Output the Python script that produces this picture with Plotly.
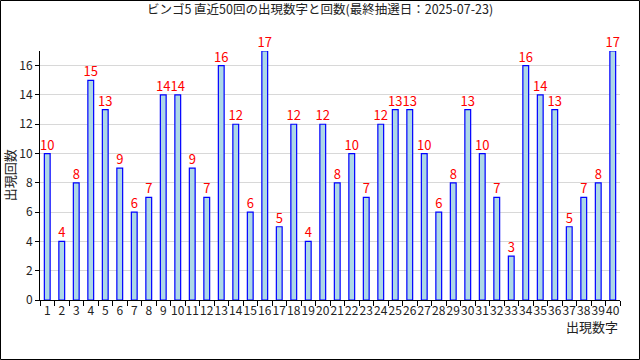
import plotly.graph_objects as go

numbers = [str(i) for i in range(1, 41)]
counts = [10, 4, 8, 15, 13, 9, 6, 7, 14, 14, 9, 7, 16, 12, 6, 17, 5, 12, 4, 12,
          8, 10, 7, 12, 13, 13, 10, 6, 8, 13, 10, 7, 3, 16, 14, 13, 5, 7, 8, 17]
title_text = "ビンゴ5 直近50回の出現数字と回数(最終抽選日：2025-07-23)"
x_title = "出現数字"
y_title = "出現回数"
y_ticks = [0, 2, 4, 6, 8, 10, 12, 14, 16]

FONT = "Noto Sans CJK JP"

fig = go.Figure(go.Bar(
    x=numbers, y=counts,
    width=0.4,
    marker=dict(color="#add8e6", line=dict(color="#0000ff", width=1.2)),
    text=[str(c) for c in counts],
    textposition="outside",
    textangle=0,
    constraintext="none",
    textfont=dict(color="#ff0000", size=13, family=FONT),
    cliponaxis=False,
))

fig.update_layout(
    width=640, height=360,
    margin=dict(l=40, r=20, t=51, b=60, autoexpand=False),
    paper_bgcolor="white", plot_bgcolor="white",
    font=dict(family=FONT, color="#222222", size=12),
    showlegend=False,
    uniformtext=dict(mode=False),
    title=dict(text=title_text, x=0.5, xanchor="center", y=0.972, yanchor="middle",
               automargin=False,
               font=dict(size=12.5, family=FONT, color="#222222")),
    bargap=0.6,
    xaxis=dict(type="category", range=[-0.5, 39.5], showline=True, linecolor="black",
               linewidth=1, ticks="outside", tickson="boundaries", ticklen=5,
               tickcolor="black", showgrid=False, tickfont=dict(size=12),
               tickangle=0, automargin=False, fixedrange=True),
    yaxis=dict(range=[0, 17], tickvals=y_ticks, showline=True, linecolor="black",
               linewidth=1, ticks="outside", ticklen=4, tickcolor="black",
               showgrid=True, gridcolor="#d8d8d8", gridwidth=1, zeroline=False,
               automargin=False, tickfont=dict(size=12)),
    annotations=[
        dict(text=x_title, xref="paper", yref="paper", x=1.0, y=-0.06,
             xanchor="right", yanchor="top", showarrow=False,
             font=dict(size=13, family=FONT, color="#222222")),
        dict(text=y_title, xref="paper", yref="paper", x=-0.052, y=0.5,
             xanchor="center", yanchor="middle", showarrow=False, textangle=-90,
             font=dict(size=13, family=FONT, color="#222222")),
    ],
    shapes=[dict(type="rect", xref="paper", yref="paper",
                 x0=-0.0681, x1=1.0336, y0=-0.239, y1=1.2028,
                 line=dict(color="black", width=1), fillcolor="rgba(0,0,0,0)")],
)

fig.write_html("out.html", config={"displayModeBar": False},
               post_script="document.body.style.margin='0';document.body.style.padding='0';")
